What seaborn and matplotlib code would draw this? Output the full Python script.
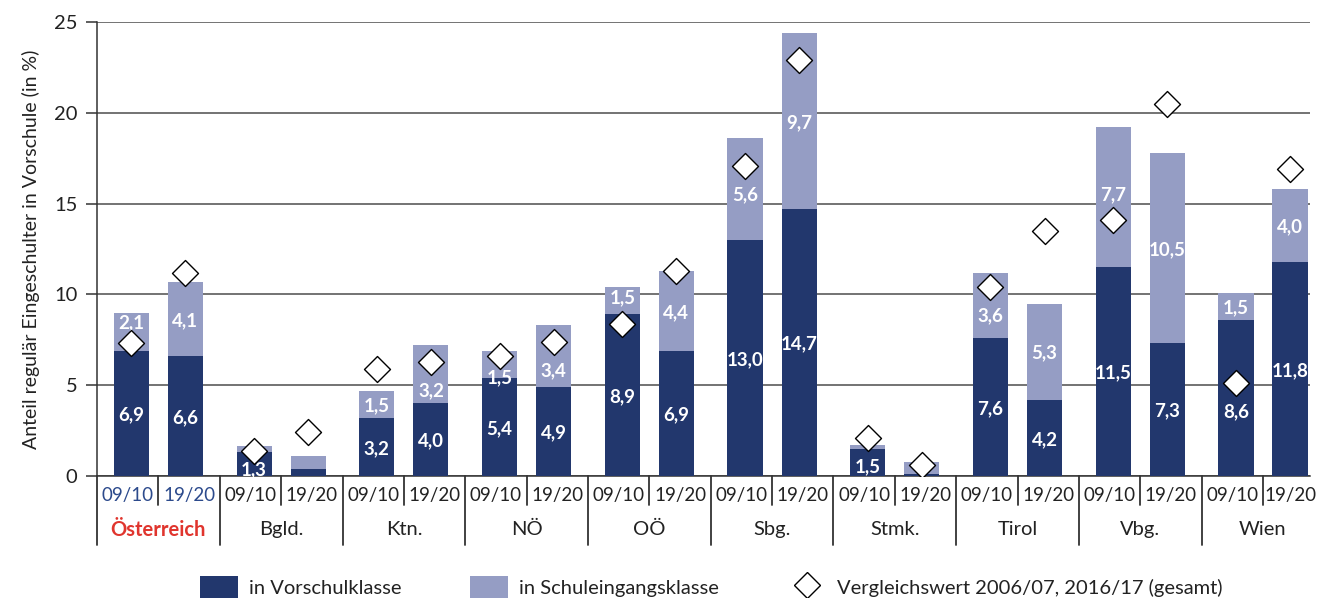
import numpy as np
import pandas as pd
import seaborn as sns
import matplotlib.pyplot as plt
from matplotlib.patches import Patch
from matplotlib.lines import Line2D
from matplotlib.transforms import blended_transform_factory

# Data, bar order: region by region, 09/10 then 19/20
regions = ['Österreich', 'Bgld.', 'Ktn.', 'NÖ', 'OÖ', 'Sbg.', 'Stmk.', 'Tirol', 'Vbg.', 'Wien']
years = ['09/10', '19/20']
vorschulklasse = [6.9, 6.6, 1.3, 0.4, 3.2, 4.0, 5.4, 4.9, 8.9, 6.9,
                  13.0, 14.7, 1.5, 0.1, 7.6, 4.2, 11.5, 7.3, 8.6, 11.8]
schuleingangsklasse = [2.1, 4.1, 0.35, 0.7, 1.5, 3.2, 1.5, 3.4, 1.5, 4.4,
                       5.6, 9.7, 0.2, 0.65, 3.6, 5.3, 7.7, 10.5, 1.5, 4.0]
vergleichswert = [7.3, 11.2, 1.4, 2.4, 5.9, 6.3, 6.6, 7.4, 8.4, 11.3,
                  17.1, 22.9, 2.1, 0.6, 10.4, 13.5, 14.1, 20.5, 5.1, 16.9]

DARK = '#22376d'
LIGHT = '#959dc4'
GAP = 2.27  # distance between region groups (bar pitch within a group = 1)

sns.set_theme(style='white')
plt.rcParams['font.family'] = ['Lato', 'DejaVu Sans']


def fmt(v):
    return '{:.1f}'.format(v).replace('.', ',')


def label_y(bottom, top, diamond, low_pad, clear=1.5):
    """Centre of the segment, pushed away from the diamond if they would overlap"""
    y = (bottom + top) / 2
    if abs(y - diamond) < clear:
        y = diamond - clear if diamond > y else diamond + clear
    return min(max(y, bottom + low_pad), top - 0.5)


# Build dataframe
pos = [k * GAP + j for k in range(len(regions)) for j in range(len(years))]
df = pd.DataFrame({'pos': pos,
                   'dark': vorschulklasse,
                   'light': schuleingangsklasse,
                   'vergleich': vergleichswert})
df['total'] = df['dark'] + df['light']

fig, ax = plt.subplots(figsize=(13.17, 5.98), dpi=100)
fig.subplots_adjust(left=0.0737, right=0.9947, bottom=0.204, top=0.963)

# Stacked bars: total in light colour, Vorschulklasse on top in dark colour
sns.barplot(data=df, x='pos', y='total', native_scale=True, width=0.65,
            color=LIGHT, saturation=1, errorbar=None, linewidth=0, ax=ax, zorder=2)
sns.barplot(data=df, x='pos', y='dark', native_scale=True, width=0.65,
            color=DARK, saturation=1, errorbar=None, linewidth=0, ax=ax, zorder=3)

# Value labels
for _, row in df.iterrows():
    if row['dark'] >= 1.0:
        y = label_y(0, row['dark'], row['vergleich'], 0.45)
        ax.text(row['pos'], y, fmt(row['dark']), color='white', ha='center',
                va='center_baseline', fontsize=13.5, fontweight='bold', zorder=4)
    if row['light'] >= 1.0:
        y = label_y(row['dark'], row['total'], row['vergleich'], 0.1)
        ax.text(row['pos'], y, fmt(row['light']), color='white', ha='center',
                va='center_baseline', fontsize=13.5, fontweight='bold', zorder=4)

# Comparison diamonds
sns.scatterplot(data=df, x='pos', y='vergleich', marker='D', s=175, color='white',
                edgecolor='black', linewidth=1, zorder=5, ax=ax, legend=False)

# Axes styling
xmax = 9 * GAP + 1.37
ax.set_xlim(-(GAP - 1) / 2, xmax)
ax.set_ylim(0, 25)
ax.set_yticks([0, 5, 10, 15, 20, 25])
ax.yaxis.grid(True, color='#4d4d4d', linewidth=1.1)
ax.set_axisbelow(True)
ax.tick_params(axis='y', left=True, length=8, width=1.1, color='#333333',
               labelsize=14.5, labelcolor='#222222', pad=6)
ax.set_xticks([])
ax.set_xlabel('')
ax.set_ylabel('Anteil regulär Eingeschulter in Vorschule (in %)', fontsize=14,
              color='#222222', labelpad=10)
sns.despine(ax=ax, top=True, right=True)
for side in ['left', 'bottom']:
    ax.spines[side].set_color('#333333')
    ax.spines[side].set_linewidth(1.1)

# Two-level category axis
trans = blended_transform_factory(ax.transData, ax.transAxes)
half = (GAP - 1) / 2
for k, region in enumerate(regions):
    left = k * GAP - half
    mid = k * GAP + 0.5
    right = k * GAP + 1 + half
    ax.plot([left, left], [0, -0.152], transform=trans, color='#333333', lw=1.3, clip_on=False)
    ax.plot([mid, mid], [0, -0.064], transform=trans, color='#333333', lw=1.3, clip_on=False)
    is_at = region == 'Österreich'
    ycol = '#2c4a8c' if is_at else '#222222'
    ax.text((left + mid) / 2, -0.042, years[0], transform=trans, ha='center', va='center',
            fontsize=13.5, color=ycol)
    ax.text(min((mid + right) / 2, xmax - 0.37), -0.042, years[1], transform=trans,
            ha='center', va='center', fontsize=13.5, color=ycol)
    ax.text(mid, -0.118, region, transform=trans, ha='center', va='center', fontsize=14.5,
            color='#e0352e' if is_at else '#222222', fontweight='bold' if is_at else 'normal')

# Legend
handles = [Patch(facecolor=DARK, edgecolor='none'),
           Patch(facecolor=LIGHT, edgecolor='none'),
           Line2D([], [], marker='D', linestyle='none', markersize=13,
                  markerfacecolor='white', markeredgecolor='black', markeredgewidth=1)]
labels = ['in Vorschulklasse', 'in Schuleingangsklasse', 'Vergleichswert 2006/07, 2016/17 (gesamt)']
fig.legend(handles, labels, loc='center', bbox_to_anchor=(0.54, 0.018), ncol=3,
           frameon=False, fontsize=14.5, handlelength=1.9, handleheight=1.3,
           columnspacing=3.4, handletextpad=0.55, labelcolor='#222222')

fig.savefig('out.png', dpi=100)
